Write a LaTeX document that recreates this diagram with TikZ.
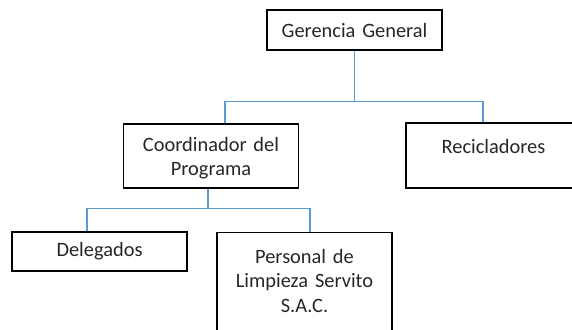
\documentclass[tikz,border=0pt]{standalone}
\usepackage{fontspec}
\setmainfont{Carlito}
\usetikzlibrary{positioning,calc}
\definecolor{linkblue}{RGB}{91,155,213}
\tikzset{
    unit/.style ={rectangle, draw, line width=1.1pt, minimum width=175pt, text width=165pt,
                  align=center, inner sep=0pt, text=black!85,
                  font=\fontsize{20.4}{24.4}\selectfont},
    link/.style ={draw=linkblue, line width=1.1pt}
}

\begin{document}
\begin{tikzpicture}[x=1pt,y=-1pt]
    \useasboundingbox (0,0) rectangle (572,329);
    \clip (0,0) rectangle (572,329);

    \node[unit, minimum height=40pt] (1) at (354.5,30) {Gerencia General};
    \node[unit, minimum height=64pt, text height=14pt, text depth=23pt] (2) at (211,156) {Coordinador del\\Programa};
    \node[unit, minimum height=65pt, text height=14pt, text depth=19pt] (3) at (493.5,155.5) {Recicladores};
    \node[unit, minimum height=39pt] (4) at (99.5,251.5) {Delegados};
    \node[unit, anchor=north, inner ysep=17pt, text height=14pt, text depth=90pt] (5) at (304.5,232) {Personal de\\Limpieza Servito\\S.A.C.};

    \draw[link] (1.south) -- ++(0,51) -| ([xshift=14pt]2.north);
    \draw[link] (1.south) -- ++(0,51) -| ([xshift=-10.5pt]3.north);
    \draw[link] ([xshift=-3pt]2.south) -- ++(0,20) -| ([xshift=-12.5pt]4.north);
    \draw[link] ([xshift=-3pt]2.south) -- ++(0,20) -| ([xshift=5.5pt]5.north);
\end{tikzpicture}
\end{document}
